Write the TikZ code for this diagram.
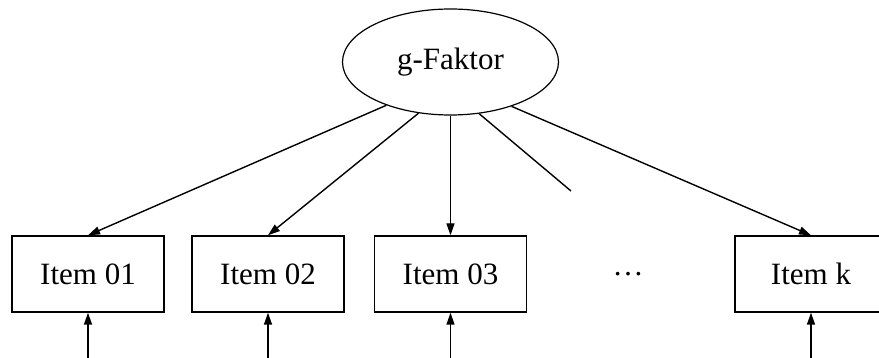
\documentclass[tikz,border=0pt]{standalone}
\usepackage{fontspec}
\setmainfont{Liberation Serif}
\usetikzlibrary{shapes.geometric,arrows.meta}
\begin{document}
\begin{tikzpicture}[x=1pt,y=-1pt,
  every node/.style={font=\fontsize{31}{36}\selectfont},
  factor/.style={ellipse,draw,line width=1.2pt,minimum width=216pt,minimum height=106pt,inner sep=0pt},
  itembox/.style={rectangle,draw,line width=1.4pt,minimum width=152pt,minimum height=76pt,inner sep=0pt},
  link/.style={line width=1.4pt,-{Triangle[length=12pt,width=8pt]}},
  stub/.style={line width=1.4pt}]
\useasboundingbox (0,0) rectangle (879,358);
% latent factor
\node[factor] (g) at (450.5,62) {g-Faktor};
% observed items
\node[itembox] (i1) at (88,274) {Item 01};
\node[itembox] (i2) at (268,274) {Item 02};
\node[itembox] (i3) at (450.5,274) {Item 03};
\node (dots) at (628,274) {…};
\node[itembox] (ik) at (811,274) {Item k};
% loadings
\draw[link] (g.214.5) -- (i1.north);
\draw[link] (g.238.7) -- (i2.north);
\draw[link] (g.270) -- (i3.north);
\coordinate (dend) at (571,191);
\draw[stub] (g.299.6) -- (dend);
\draw[link] (g.324.2) -- (ik.north);
% residual terms
\coordinate (e1) at (88,362);
\coordinate (e2) at (268,362);
\coordinate (e3) at (450.5,362);
\coordinate (ek) at (811,362);
\draw[link] (e1) -- (i1.south);
\draw[link] (e2) -- (i2.south);
\draw[link] (e3) -- (i3.south);
\draw[link] (ek) -- (ik.south);
\end{tikzpicture}
\end{document}
